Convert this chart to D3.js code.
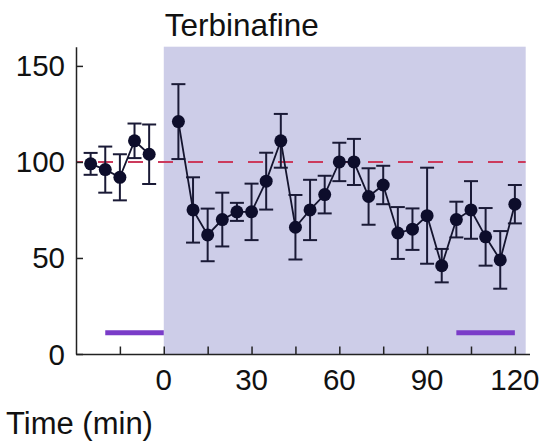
<!DOCTYPE html>
<html>
<head>
<meta charset="utf-8">
<script src="https://cdn.jsdelivr.net/npm/d3@7"></script>
<style>
  body { margin: 0; background: #fff; }
  svg text { font-family: Arial, "Liberation Sans", sans-serif; fill: #111; }
</style>
</head>
<body>
<div id="chart"></div>
<script>
  // Time points (min) and normalised response (% of baseline)
  const times = [-25, -20, -15, -10, -5,
    5, 10, 15, 20, 25, 30, 35, 40, 45, 50, 55, 60, 65, 70, 75, 80,
    85, 90, 95, 100, 105, 110, 115, 120];
  const values = [99, 96, 92, 111, 104,
    121, 75, 62, 70, 74, 74, 90, 111, 66, 75, 83, 100, 100, 82, 88, 63,
    65, 72, 46, 70, 75, 61, 49, 78];
  const errors = [5.7, 12, 12, 9, 15.5,
    19.5, 17, 13.7, 14, 4.7, 14.7, 14.8, 14, 16.8, 15.7, 9.8, 10, 12, 14.7, 10, 13.5,
    10.8, 25, 8.7, 9.3, 15, 15, 15, 10];
  const xTicks = [-15, 0, 15, 30, 45, 60, 75, 90, 105, 120];
  const xLabels = [0, 30, 60, 90, 120];
  const yTicks = [0, 50, 100, 150];
  const drugWindow = [0, 123.7];
  const baselineBar = [-20, 0];
  const endBar = [100, 120];
  const barLevel = 11;
  const refLevel = 100;

  const width = 547, height = 444;

  const svg = d3.select('#chart')
    .append('svg')
    .attr('width', width)
    .attr('height', height);

  const x = d3.scaleLinear().domain([-30, 125]).range([76, 529.5]);
  const y = d3.scaleLinear().domain([0, 160]).range([354, 46.7]);

  // Terbinafine shading
  svg.append('rect')
    .attr('x', x(drugWindow[0]))
    .attr('y', y(160))
    .attr('width', x(drugWindow[1]) - x(drugWindow[0]))
    .attr('height', y(0) - y(160))
    .attr('fill', '#cdcde8');

  svg.append('text')
    .attr('x', x(0) + 1)
    .attr('y', 36)
    .style('font-size', '31.5px')
    .text('Terbinafine');

  // Reference line at 100%
  svg.append('line')
    .attr('x1', x(-30)).attr('x2', x(drugWindow[1]))
    .attr('y1', y(refLevel)).attr('y2', y(refLevel))
    .attr('stroke', '#cc3a5c')
    .attr('stroke-width', 2)
    .attr('stroke-dasharray', '15,15')
    .attr('stroke-dashoffset', 8);

  // Purple time bars
  [baselineBar, endBar].forEach(b => {
    svg.append('line')
      .attr('x1', x(b[0])).attr('x2', x(b[1]))
      .attr('y1', y(barLevel)).attr('y2', y(barLevel))
      .attr('stroke', '#7a3cc8')
      .attr('stroke-width', 5);
  });

  // Axes
  const xAxis = svg.append('g')
    .attr('transform', `translate(0,${y(0)})`)
    .call(d3.axisTop(x).tickValues(xTicks).tickSize(7.5).tickSizeOuter(0).tickFormat(''));
  xAxis.select('.domain').attr('stroke', '#222').attr('stroke-width', 1.5);
  xAxis.selectAll('.tick line').attr('stroke', '#222').attr('stroke-width', 1.5);

  svg.selectAll('.xlab')
    .data(xLabels)
    .enter()
    .append('text')
    .attr('class', 'xlab')
    .attr('x', d => x(d))
    .attr('y', 389.5)
    .attr('text-anchor', 'middle')
    .style('font-size', '29.5px')
    .text(d => d);

  const yAxis = svg.append('g')
    .attr('transform', `translate(${x(-30)},0)`)
    .call(d3.axisRight(y).tickValues(yTicks).tickSize(7).tickSizeOuter(0).tickFormat(''));
  yAxis.select('.domain').attr('stroke', '#222').attr('stroke-width', 1.5);
  yAxis.selectAll('.tick line').attr('stroke', '#222').attr('stroke-width', 1.5);

  svg.selectAll('.ylab')
    .data(yTicks)
    .enter()
    .append('text')
    .attr('class', 'ylab')
    .attr('x', 65)
    .attr('y', d => y(d) + 10.5)
    .attr('text-anchor', 'end')
    .style('font-size', '29.5px')
    .text(d => d);

  svg.append('text')
    .attr('x', 6)
    .attr('y', 434)
    .style('font-size', '31px')
    .text('Time (min)');

  const data = times.map((t, i) => ({ t, v: values[i], e: errors[i] }));
  const pre = data.filter(d => d.t < 0);
  const post = data.filter(d => d.t > 0);

  // Error bars
  const eb = svg.append('g').attr('stroke', '#1a1a36').attr('stroke-width', 2);
  data.forEach(d => {
    eb.append('line')
      .attr('x1', x(d.t)).attr('x2', x(d.t))
      .attr('y1', y(d.v - d.e)).attr('y2', y(d.v + d.e));
    [d.v - d.e, d.v + d.e].forEach(v => {
      eb.append('line')
        .attr('x1', x(d.t) - 7).attr('x2', x(d.t) + 7)
        .attr('y1', y(v)).attr('y2', y(v));
    });
  });

  // Connecting lines
  const line = d3.line().x(d => x(d.t)).y(d => y(d.v));
  [pre, post].forEach(seg => {
    svg.append('path')
      .datum(seg)
      .attr('fill', 'none')
      .attr('stroke', '#14142e')
      .attr('stroke-width', 1.8)
      .attr('d', line);
  });

  svg.selectAll('.dot')
    .data(data)
    .enter()
    .append('circle')
    .attr('class', 'dot')
    .attr('cx', d => x(d.t))
    .attr('cy', d => y(d.v))
    .attr('r', 6.5)
    .attr('fill', '#0d0d2b');
</script>
</body>
</html>
